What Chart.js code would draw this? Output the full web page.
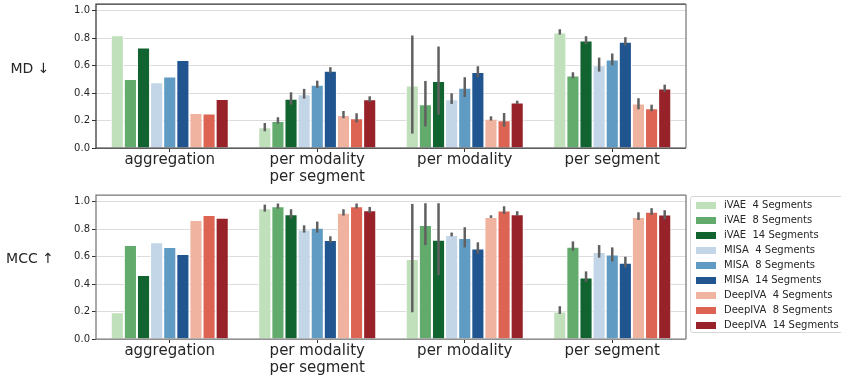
<!DOCTYPE html>
<html>
<head>
<meta charset="utf-8">
<script src="https://cdn.jsdelivr.net/npm/chart.js@4.4.0/dist/chart.umd.min.js"></script>
<style>
  body { margin: 0; background: #fff; overflow: hidden; width: 841px; height: 379px; position: relative; font-family: "DejaVu Sans", sans-serif; color: #262626; }
  canvas { position: absolute; left: 0; }
  .ylab { position: absolute; font-size: 14px; white-space: pre; transform: translate(-50%, -50%); }
  #legend { position: absolute; left: 690px; top: 196px; width: 170px; height: 137px; border: 1px solid #d6d6d6; border-radius: 3px; box-sizing: border-box; }
  .item { position: absolute; left: 0; height: 12px; font-size: 10px; white-space: pre; }
  .sw { position: absolute; left: 5px; top: 2px; width: 20px; height: 7px; }
  .tx { position: absolute; left: 33px; top: -1px; }
</style>
</head>
<body>
<canvas id="md" width="841" height="190" style="top:0"></canvas>
<canvas id="mcc" width="841" height="189" style="top:190px"></canvas>
<div class="ylab" style="left:30px; top:68px">MD ↓</div>
<div class="ylab" style="left:30px; top:258px">MCC ↑</div>
<div id="legend"></div>
<script>
document.addEventListener('DOMContentLoaded', function () {

	'use strict';

	const categories = ['aggregation', ['per modality', 'per segment'], 'per modality', 'per segment'];
	const series = ['iVAE  4 Segments', 'iVAE  8 Segments', 'iVAE  14 Segments',
		'MISA  4 Segments', 'MISA  8 Segments', 'MISA  14 Segments',
		'DeepIVA  4 Segments', 'DeepIVA  8 Segments', 'DeepIVA  14 Segments'];
	const colors = ['#c0dfbb', '#63ab6d', '#11632f', '#c2d6e8', '#5f9bc3', '#21558f', '#f0b39f', '#dd6453', '#97222a'];
	const yTicks = [0, 0.2, 0.4, 0.6, 0.8, 1.0];

	// rows = series, columns = categories
	const mdMean = [
		[0.822, 0.151, 0.455, 0.842],
		[0.504, 0.197, 0.319, 0.528],
		[0.732, 0.360, 0.489, 0.783],
		[0.479, 0.392, 0.355, 0.603],
		[0.521, 0.462, 0.440, 0.645],
		[0.642, 0.564, 0.555, 0.774],
		[0.255, 0.241, 0.214, 0.324],
		[0.251, 0.217, 0.202, 0.290],
		[0.358, 0.355, 0.331, 0.433]
	];
	const mdLow = [
		[null, 0.122, 0.105, 0.827],
		[null, 0.178, 0.158, 0.509],
		[null, 0.316, 0.243, 0.757],
		[null, 0.360, 0.321, 0.557],
		[null, 0.438, 0.372, 0.603],
		[null, 0.547, 0.516, 0.747],
		[null, 0.217, 0.200, 0.282],
		[null, 0.187, 0.156, 0.268],
		[null, 0.336, 0.321, 0.409]
	];
	const mdHigh = [
		[null, 0.182, 0.820, 0.866],
		[null, 0.224, 0.489, 0.552],
		[null, 0.406, 0.740, 0.815],
		[null, 0.431, 0.399, 0.659],
		[null, 0.491, 0.516, 0.689],
		[null, 0.589, 0.596, 0.808],
		[null, 0.270, 0.231, 0.363],
		[null, 0.253, 0.255, 0.316],
		[null, 0.377, 0.345, 0.462]
	];
	const mccMean = [
		[0.195, 0.954, 0.583, 0.200],
		[0.685, 0.968, 0.832, 0.673],
		[0.466, 0.910, 0.724, 0.449],
		[0.705, 0.798, 0.759, 0.634],
		[0.671, 0.812, 0.737, 0.617],
		[0.620, 0.722, 0.659, 0.556],
		[0.868, 0.920, 0.890, 0.890],
		[0.905, 0.968, 0.937, 0.927],
		[0.885, 0.939, 0.910, 0.907]
	];
	const mccLow = [
		[null, 0.929, 0.195, 0.183],
		[null, 0.951, 0.685, 0.644],
		[null, 0.878, 0.466, 0.417],
		[null, 0.776, 0.749, 0.593],
		[null, 0.776, 0.668, 0.566],
		[null, 0.702, 0.622, 0.522],
		[null, 0.900, 0.883, 0.868],
		[null, 0.951, 0.912, 0.905],
		[null, 0.920, 0.898, 0.873]
	];
	const mccHigh = [
		[null, 0.980, 0.985, 0.239],
		[null, 0.988, 0.990, 0.712],
		[null, 0.946, 0.990, 0.493],
		[null, 0.829, 0.776, 0.685],
		[null, 0.856, 0.815, 0.668],
		[null, 0.749, 0.705, 0.600],
		[null, 0.946, 0.902, 0.924],
		[null, 0.988, 0.968, 0.954],
		[null, 0.963, 0.932, 0.939]
	];

	Chart.defaults.font.family = '"DejaVu Sans", sans-serif';
	Chart.defaults.color = '#262626';

	// error bars + frame
	const extras = {
		id: 'extras',
		afterDatasetsDraw(chart, args, opts) {
			const ctx = chart.ctx;
			const y = chart.scales.y;
			ctx.save();
			ctx.strokeStyle = '#606060';
			ctx.lineWidth = 2.5;
			chart.data.datasets.forEach(function (ds, i) {
				const meta = chart.getDatasetMeta(i);
				meta.data.forEach(function (bar, j) {
					if (ds.low[j] == null) return;
					ctx.beginPath();
					ctx.moveTo(bar.x, y.getPixelForValue(ds.low[j]));
					ctx.lineTo(bar.x, y.getPixelForValue(ds.high[j]));
					ctx.stroke();
				});
			});
			const a = chart.chartArea;
			ctx.lineWidth = 1.25;
			ctx.strokeStyle = opts.main;
			ctx.beginPath();
			ctx.moveTo(a.right, a.top);
			ctx.lineTo(a.left, a.top);
			ctx.lineTo(a.left, a.bottom);
			ctx.lineTo(a.right, a.bottom);
			ctx.stroke();
			ctx.strokeStyle = opts.side;
			ctx.beginPath();
			ctx.moveTo(a.right, a.top);
			ctx.lineTo(a.right, a.bottom);
			ctx.stroke();
			ctx.restore();
		}
	};

	function makeChart(id, mean, low, high, padTop, xHeight, frame) {
		return new Chart(document.getElementById(id), {
			type: 'bar',
			data: {
				labels: categories,
				datasets: series.map(function (name, i) {
					return {
						label: name,
						data: mean[i],
						low: low[i],
						high: high[i],
						backgroundColor: colors[i],
						borderColor: '#ffffff',
						borderWidth: 1,
						categoryPercentage: 0.8,
						barPercentage: 1.0
					};
				})
			},
			options: {
				responsive: false,
				devicePixelRatio: 1,
				animation: false,
				layout: { padding: { top: padTop, right: 155, left: 0, bottom: 0 } },
				plugins: {
					legend: { display: false },
					tooltip: { enabled: false },
					extras: frame
				},
				scales: {
					x: {
						grid: { drawOnChartArea: false, offset: false, tickLength: 4, color: '#333' },
						border: { display: false },
						ticks: { font: { size: 15, lineHeight: 1.12 }, padding: 0, maxRotation: 0, autoSkip: false },
						afterFit: function (s) { s.height = xHeight; s.paddingLeft = 0; s.paddingRight = 0; }
					},
					y: {
						min: 0,
						max: 1.05,
						grid: { color: '#dcdcdc', lineWidth: 1, tickLength: 4, tickColor: '#333' },
						border: { display: false },
						ticks: {
							font: { size: 10 },
							padding: 2,
							callback: function (v) { return v.toFixed(1); }
						},
						afterBuildTicks: function (s) {
							s.ticks = yTicks.map(function (v) { return { value: v }; });
						},
						afterFit: function (s) { s.width = 96; s.paddingTop = 0; s.paddingBottom = 0; }
					}
				}
			},
			plugins: [extras]
		});
	}

	makeChart('md', mdMean, mdLow, mdHigh, 4, 42, { main: '#333333', side: '#7a7a7a' });
	makeChart('mcc', mccMean, mccLow, mccHigh, 5, 40, { main: '#777777', side: '#777777' });

	// legend
	const legend = document.getElementById('legend');
	series.forEach(function (name, i) {
		const item = document.createElement('div');
		item.className = 'item';
		item.style.top = (3 + i * 14.96) + 'px';
		item.innerHTML = '<span class="sw" style="background:' + colors[i] + '"></span><span class="tx"></span>';
		item.querySelector('.tx').textContent = name;
		legend.appendChild(item);
	});
});
</script>
</body>
</html>
